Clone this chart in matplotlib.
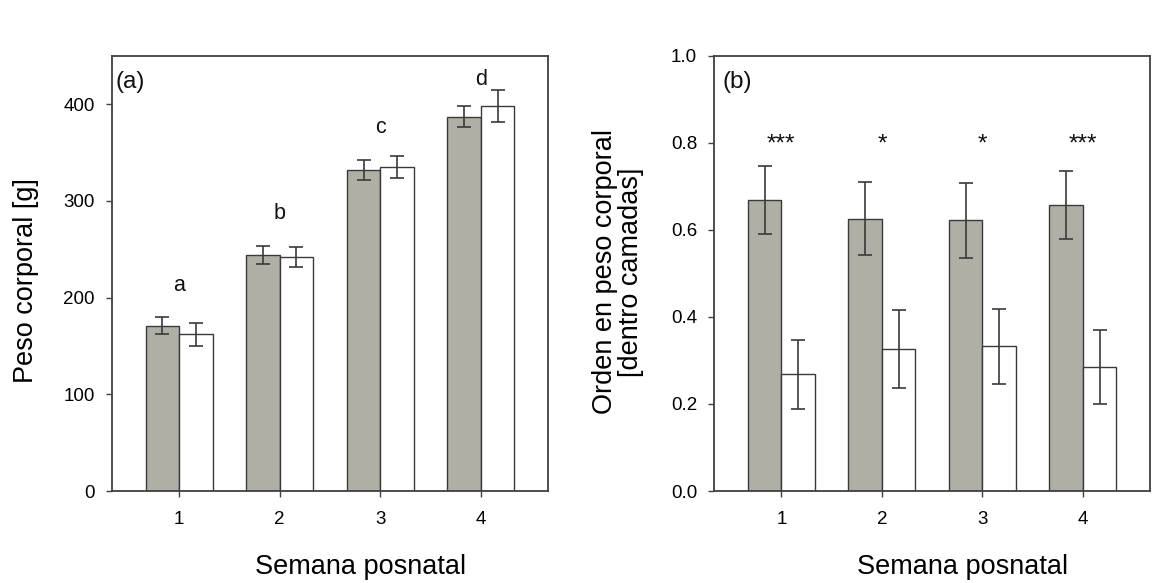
import numpy as np
import matplotlib
matplotlib.use("Agg")
import matplotlib.pyplot as plt

plt.rcParams['font.family'] = ['Liberation Sans', 'DejaVu Sans']

# Data
weeks = [1, 2, 3, 4]
week_labels = ['1', '2', '3', '4']

# (a) body weight [g]
weight_gray = [171, 244, 332, 387]
weight_gray_err = [8.5, 9, 10.5, 10.5]
weight_white = [162, 242, 335, 398]
weight_white_err = [12, 10, 11, 16.5]
weight_letters = ['a', 'b', 'c', 'd']
weight_letter_y = [207, 281, 370, 420]

# (b) within-litter body weight rank
rank_gray = [0.669, 0.626, 0.622, 0.657]
rank_gray_err = [0.078, 0.083, 0.086, 0.078]
rank_white = [0.268, 0.326, 0.332, 0.285]
rank_white_err = [0.079, 0.090, 0.086, 0.085]
rank_stars = ['***', '*', '*', '***']
rank_star_y = [0.795, 0.795, 0.795, 0.795]

W, H = 1164, 583
fig = plt.figure(figsize=(W / 100, H / 100), dpi=100)
fig.patch.set_facecolor('white')

GRAY = '#b0afa5'
EDGE = '#3a3a3a'
FRAME = '#404040'


def px_axes(x0, x1, y0, y1):
    return fig.add_axes([x0 / W, 1 - y1 / H, (x1 - x0) / W, (y1 - y0) / H])


def draw_panel(ax, g, ge, wv, we, ylim, yticks, yticklabels):
    x = np.array(weeks, dtype=float)
    bw = 1 / 3
    ax.bar(x - bw / 2, g, width=bw, color=GRAY, edgecolor=EDGE, linewidth=1.0, zorder=2)
    ax.bar(x + bw / 2, wv, width=bw, color='white', edgecolor=EDGE, linewidth=1.0, zorder=2)
    ax.errorbar(x - bw / 2, g, yerr=ge, fmt='none', ecolor=EDGE, elinewidth=1.2,
                capsize=5.2, capthick=1.2, zorder=3)
    ax.errorbar(x + bw / 2, wv, yerr=we, fmt='none', ecolor=EDGE, elinewidth=1.2,
                capsize=5.2, capthick=1.2, zorder=3)
    ax.set_xlim(1 / 3, 14 / 3)
    ax.set_ylim(*ylim)
    ax.set_xticks(weeks)
    ax.set_xticklabels(week_labels)
    ax.set_yticks(yticks)
    ax.set_yticklabels(yticklabels)
    for s in ax.spines.values():
        s.set_color(FRAME)
        s.set_linewidth(1.3)
    ax.tick_params(axis='both', direction='out', length=4.3, width=1.0, color=FRAME,
                   labelsize=13.5, top=False, right=False)
    ax.tick_params(axis='x', pad=10)
    ax.tick_params(axis='y', pad=8)


# Panel (a)
ax1 = px_axes(112, 548, 55.7, 491)
draw_panel(ax1, weight_gray, weight_gray_err, weight_white, weight_white_err,
           (0, 450), [0, 100, 200, 300, 400], ['0', '100', '200', '300', '400'])
for xk, lab, yk in zip(weeks, weight_letters, weight_letter_y):
    ax1.text(xk, yk, lab, ha='center', va='baseline', fontsize=15.5, color='#111111')
ax1.text(0.009, 0.94, '(a)', transform=ax1.transAxes, ha='left', va='center',
         fontsize=17.5, color='#111111')

# Panel (b)
ax2 = px_axes(714.3, 1150, 55.7, 491)
draw_panel(ax2, rank_gray, rank_gray_err, rank_white, rank_white_err,
           (0, 1.0), [0, 0.2, 0.4, 0.6, 0.8, 1.0], ['0.0', '0.2', '0.4', '0.6', '0.8', '1.0'])
for xk, lab, yk in zip(weeks, rank_stars, rank_star_y):
    ax2.text(xk, yk, lab, ha='center', va='center', fontsize=17.5, color='#111111')
ax2.text(0.019, 0.94, '(b)', transform=ax2.transAxes, ha='left', va='center',
         fontsize=17.5, color='#111111')

# Axis titles
fig.text(361 / W, 1 - 567 / H, 'Semana posnatal', ha='center', va='center', fontsize=19.5)
fig.text(963 / W, 1 - 567 / H, 'Semana posnatal', ha='center', va='center', fontsize=19.5)
fig.text(26 / W, 1 - 281 / H, 'Peso corporal [g]', ha='center', va='center',
         rotation=90, fontsize=19.5)
fig.text(618 / W, 1 - 272 / H, 'Orden en peso corporal\n[dentro camadas]', ha='center',
         va='center', rotation=90, fontsize=19.5, linespacing=1.05, multialignment='center')

fig.savefig('out.png', dpi=100)
